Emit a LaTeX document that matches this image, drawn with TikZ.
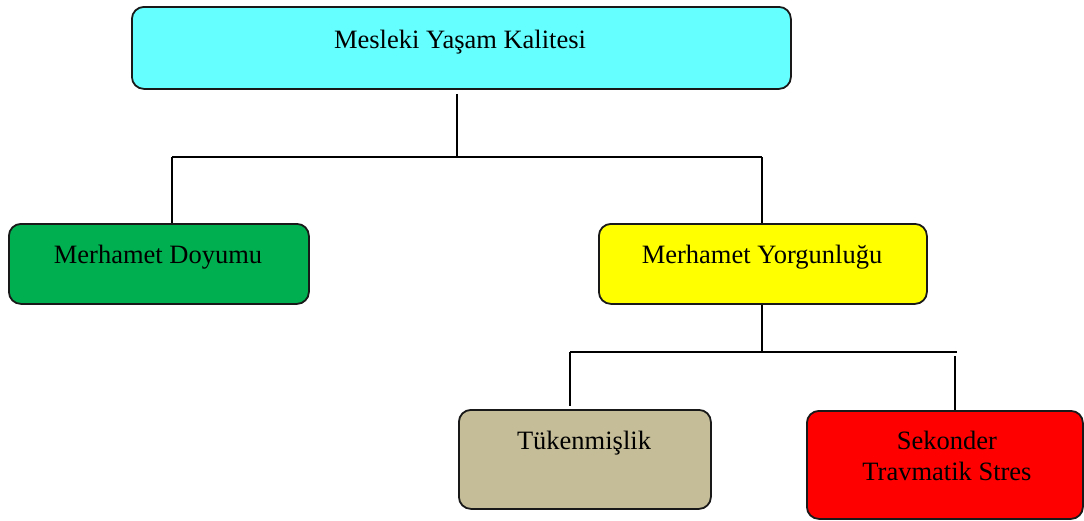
\documentclass[tikz,border=0pt]{standalone}
\usepackage{fontspec}
\setmainfont{Liberation Serif}
\definecolor{cyanbox}{HTML}{66FFFF}
\definecolor{greenbox}{HTML}{00B050}
\definecolor{yellowbox}{HTML}{FFFF00}
\definecolor{tanbox}{HTML}{C4BD97}
\definecolor{redbox}{HTML}{FF0000}
\begin{document}
\begin{tikzpicture}[x=1pt,y=-1pt,
  box/.style={draw=black!90, line width=1.8pt, rounded corners=12pt,
              inner sep=0pt, anchor=north west},
  lbl/.style={font=\fontsize{26.5}{31}\selectfont, anchor=base, inner sep=0pt},
  conn/.style={line width=1.4pt}]
\useasboundingbox (0,0) rectangle (1084,520);

% boxes
\node[box, fill=cyanbox,   minimum width=659pt, minimum height=82pt]  (mq) at (131,6)   {};
\node[box, fill=greenbox,  minimum width=300pt, minimum height=80pt]  (md) at (8,223)   {};
\node[box, fill=yellowbox, minimum width=328pt, minimum height=80pt]  (my) at (598,223) {};
\node[box, fill=tanbox,    minimum width=252pt, minimum height=99pt]  (tk) at (458,409) {};
\node[box, fill=redbox,    minimum width=276pt, minimum height=108pt] (st) at (806,410) {};

% labels
\node[lbl] (tmq) at (460,48)  {Mesleki Yaşam Kalitesi};
\node[lbl] (tmd) at (158,263) {Merhamet Doyumu};
\node[lbl] (tmy) at (762,263) {Merhamet Yorgunluğu};
\node[lbl] (ttk) at (584,449) {Tükenmişlik};
\node[lbl] (ts1) at (947,449) {Sekonder};
\node[lbl] (ts2) at (947,480) {Travmatik Stres};

% first level connectors
\coordinate (top) at (457,157);
\coordinate (hl)  at (172,157);
\coordinate (hr)  at (762,157);
\draw[conn] ([yshift=-4pt]top |- mq.south) -- (top);
\draw[conn] (hl) -- (hr);
\draw[conn] (hl) -- (hl |- md.north);
\draw[conn] (hr) -- (hr |- my.north);

% second level connectors
\coordinate (mid) at (762,352);
\coordinate (gl)  at (570,352);
\coordinate (gr)  at (957,352);
\coordinate (gv)  at (955,356);
\draw[conn] (mid |- my.south) -- (mid);
\draw[conn] (gl) -- (gr);
\draw[conn] (gl) -- ([yshift=3pt]gl |- tk.north);
\draw[conn] (gv) -- (gv |- st.north);
\end{tikzpicture}
\end{document}
